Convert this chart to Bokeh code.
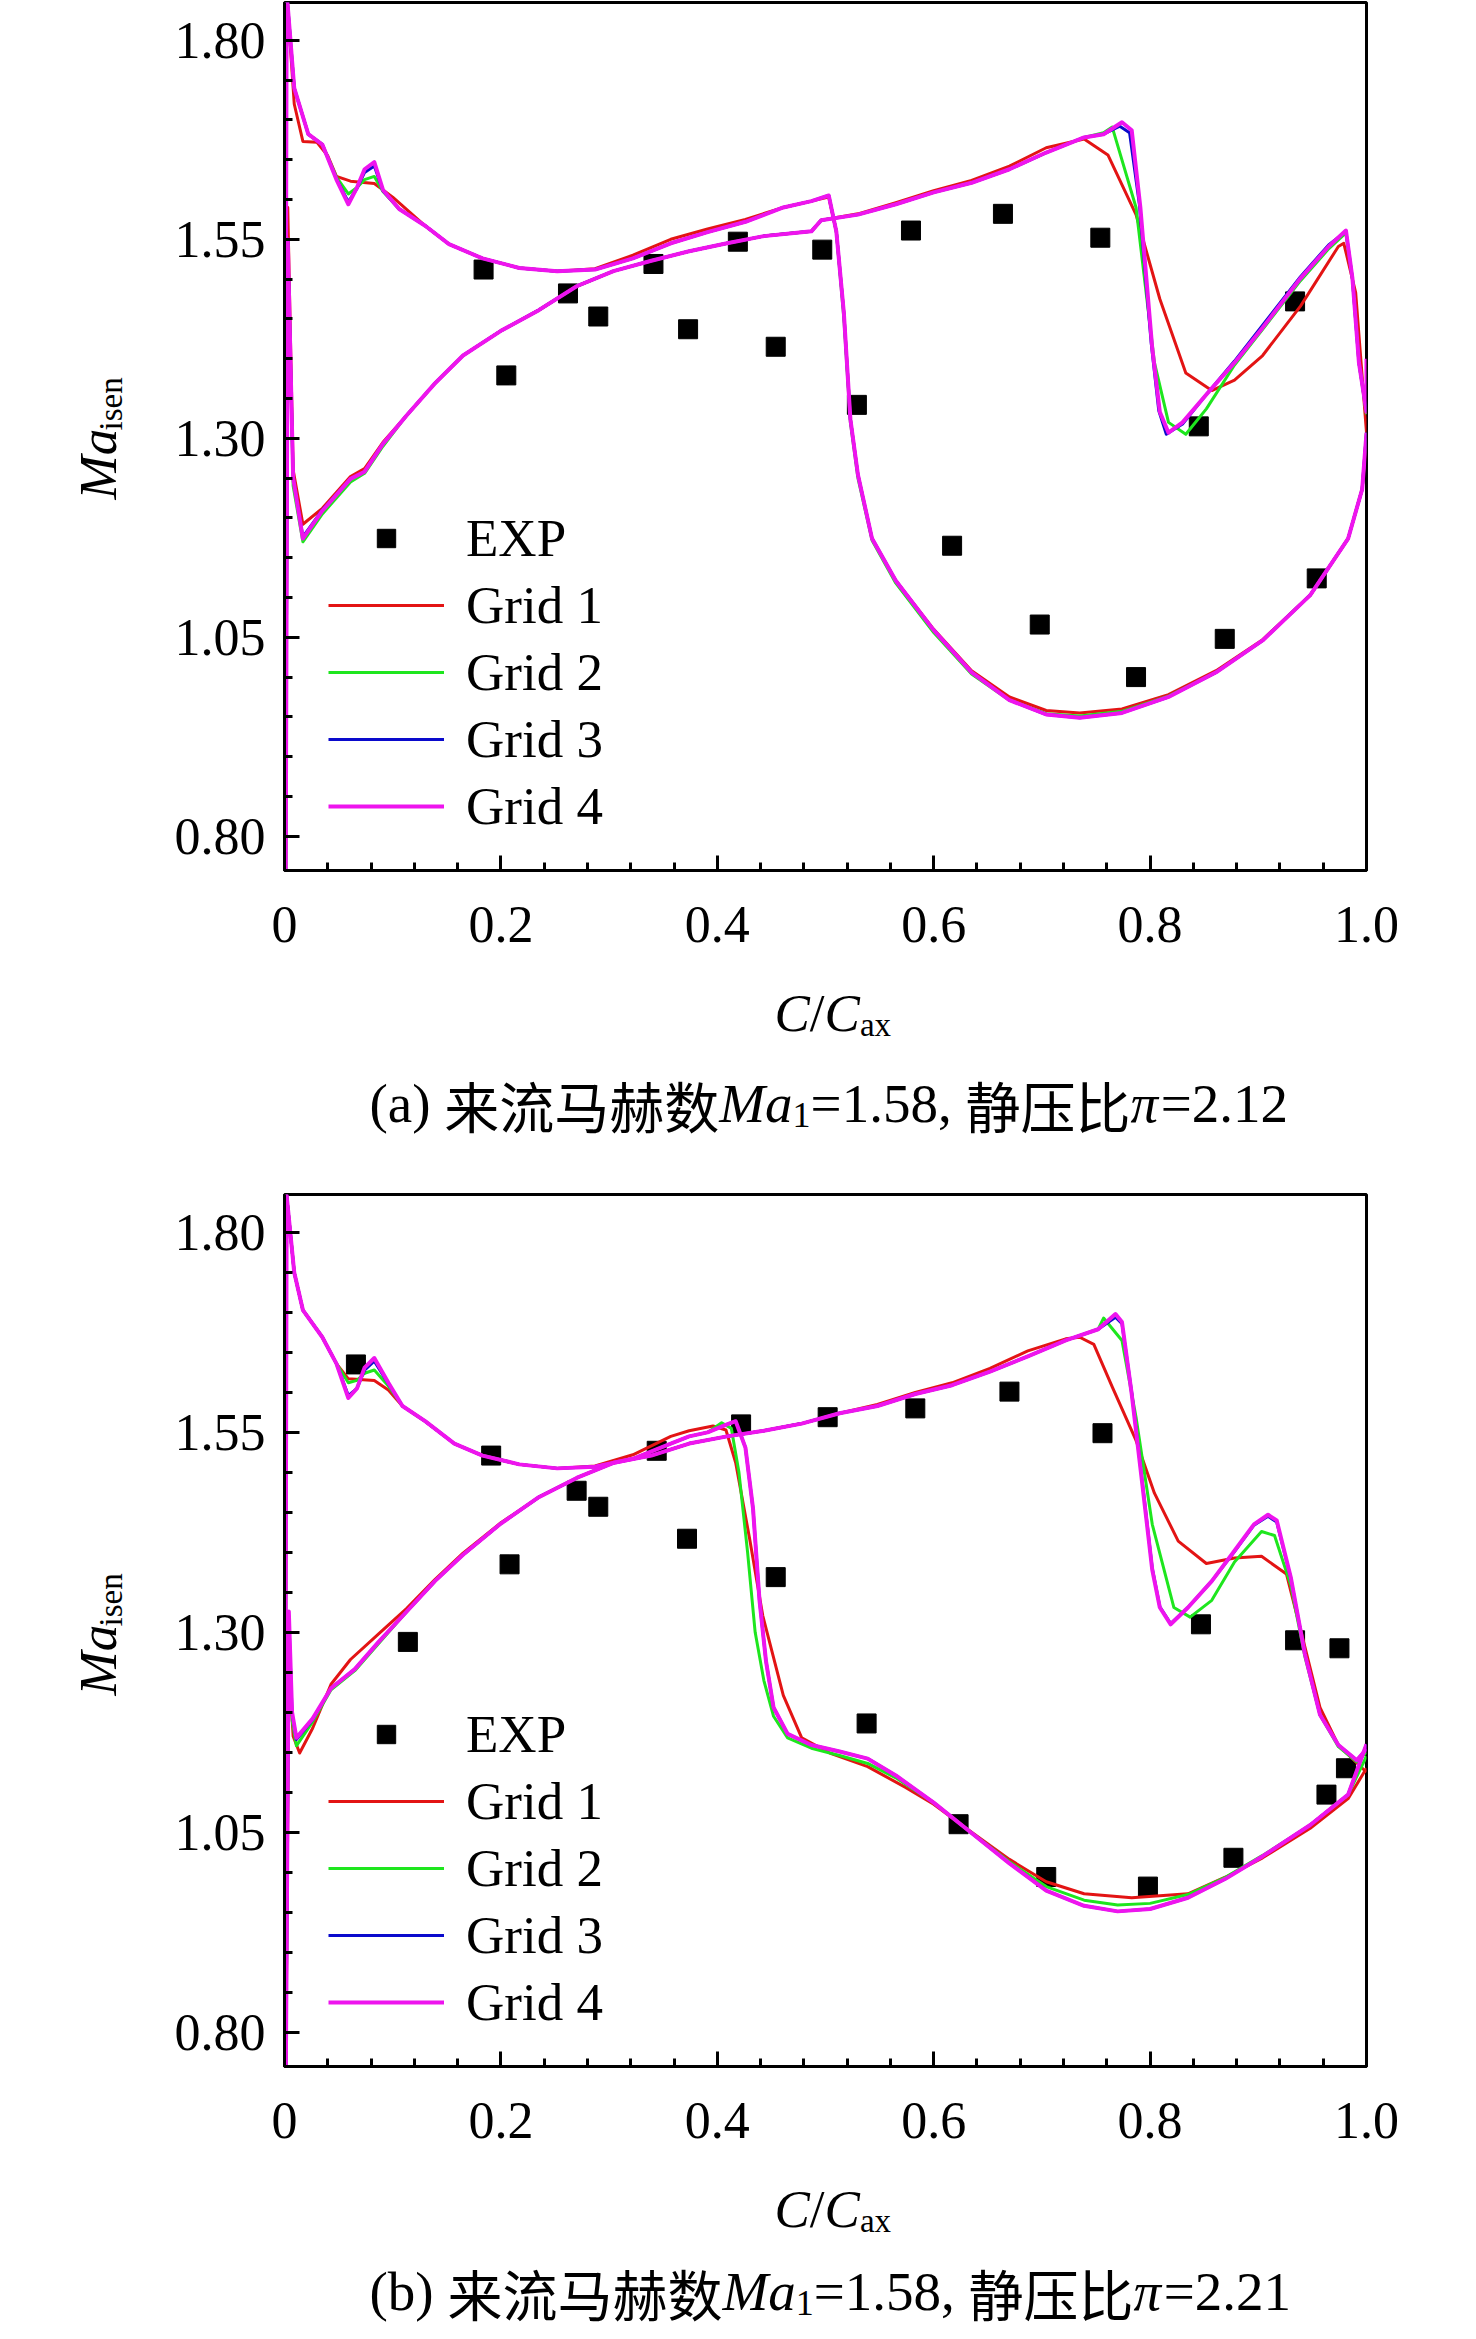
from math import pi

from bokeh.embed import file_html
from bokeh.layouts import column, row
from bokeh.models import (FixedTicker, Label, Legend, LegendItem,
                          NumeralTickFormatter, Range1d)
from bokeh.plotting import figure
from bokeh.resources import INLINE

SERIF = "Liberation Serif"
CJK = "Noto Sans CJK SC"

COLORS = {"Grid 1": "#e31414", "Grid 2": "#1ee61e", "Grid 3": "#0a0acc", "Grid 4": "#ee14ee"}

# ---------------- panel (a): Ma1=1.58, pi=2.12 ----------------
a_exp_x = [0.184, 0.205, 0.262, 0.290, 0.341, 0.373, 0.419, 0.454, 0.497, 0.529,
           0.579, 0.617, 0.664, 0.698, 0.754, 0.787, 0.845, 0.869, 0.934, 0.954]
a_exp_y = [1.512, 1.379, 1.482, 1.453, 1.519, 1.437, 1.547, 1.415, 1.537, 1.342,
           1.561, 1.165, 1.582, 1.066, 1.552, 1.000, 1.315, 1.048, 1.472, 1.124]

# branch starting high at the leading edge
a_up_le_x = [0.000, 0.002, 0.009, 0.022, 0.035, 0.048, 0.059, 0.067, 0.074, 0.083, 0.091, 0.106, 0.130]
a_up_le_g4 = [0.70, 1.86, 1.740, 1.682, 1.669, 1.625, 1.594, 1.615, 1.638, 1.647, 1.612, 1.588, 1.567]
a_up_le_g3 = [0.70, 1.86, 1.740, 1.682, 1.669, 1.626, 1.597, 1.614, 1.634, 1.642, 1.611, 1.588, 1.567]
a_up_le_g2 = [0.70, 1.86, 1.740, 1.682, 1.669, 1.628, 1.607, 1.615, 1.625, 1.629, 1.610, 1.588, 1.567]
a_up_le_g1x = [0.000, 0.002, 0.009, 0.017, 0.030, 0.040, 0.048, 0.061, 0.083, 0.100, 0.130]
a_up_le_g1 = [0.70, 1.86, 1.720, 1.673, 1.672, 1.655, 1.629, 1.623, 1.620, 1.603, 1.567]

a_up_mid_x = [0.152, 0.183, 0.217, 0.252, 0.287, 0.322, 0.357, 0.391, 0.426, 0.461, 0.487, 0.503]
a_up_mid = [1.544, 1.526, 1.514, 1.510, 1.512, 1.526, 1.545, 1.559, 1.572, 1.590, 1.598, 1.605]
a_up_mid_g1 = [1.544, 1.526, 1.514, 1.510, 1.513, 1.530, 1.550, 1.563, 1.575, 1.590, 1.598, 1.603]

a_up_te_x = [0.510, 0.517, 0.523, 0.530, 0.543, 0.565, 0.600, 0.635, 0.670, 0.704,
             0.735, 0.774, 0.817, 0.861, 0.904, 0.948, 0.983, 0.996, 1.000]
a_up_te = [1.560, 1.457, 1.324, 1.254, 1.174, 1.121, 1.059, 1.006, 0.971, 0.953,
           0.949, 0.955, 0.975, 1.006, 1.046, 1.103, 1.174, 1.236, 1.307]
a_up_te_g2 = [1.560, 1.450, 1.320, 1.250, 1.172, 1.118, 1.056, 1.004, 0.971, 0.954,
              0.951, 0.957, 0.976, 1.006, 1.046, 1.103, 1.174, 1.236, 1.307]
a_up_te_g1 = [1.560, 1.457, 1.324, 1.254, 1.174, 1.121, 1.060, 1.008, 0.975, 0.958,
              0.955, 0.960, 0.978, 1.008, 1.047, 1.103, 1.174, 1.236, 1.300]

# branch starting low at the leading edge
a_lo_le_x = [0.001, 0.003, 0.008, 0.017, 0.035, 0.061, 0.074, 0.091, 0.113]
a_lo_le_g4 = [0.70, 1.550, 1.250, 1.174, 1.209, 1.249, 1.258, 1.293, 1.329]
a_lo_le_g3 = [0.70, 1.550, 1.250, 1.176, 1.210, 1.249, 1.258, 1.293, 1.329]
a_lo_le_g2 = [0.70, 1.550, 1.240, 1.170, 1.205, 1.245, 1.256, 1.290, 1.329]
a_lo_le_g1 = [0.70, 1.590, 1.260, 1.192, 1.212, 1.252, 1.262, 1.295, 1.329]

a_lo_mid_x = [0.139, 0.165, 0.200, 0.235, 0.270, 0.304, 0.339, 0.374, 0.409, 0.443,
              0.487, 0.496, 0.530, 0.565, 0.600, 0.635, 0.670, 0.704]
a_lo_mid = [1.369, 1.404, 1.435, 1.461, 1.491, 1.510, 1.523, 1.535, 1.545, 1.554,
            1.560, 1.574, 1.581, 1.594, 1.609, 1.621, 1.638, 1.659]
a_lo_mid_g1 = [1.369, 1.404, 1.435, 1.461, 1.491, 1.510, 1.523, 1.535, 1.545, 1.554,
               1.560, 1.574, 1.582, 1.596, 1.611, 1.624, 1.642, 1.665]

a_lo_te_x_g4 = [0.739, 0.757, 0.774, 0.783, 0.791, 0.802, 0.809, 0.817, 0.830, 0.852,
                0.878, 0.904, 0.939, 0.965, 0.981, 0.987, 0.993, 1.000, 1.000]
a_lo_te_g4 = [1.678, 1.682, 1.697, 1.687, 1.590, 1.413, 1.333, 1.307, 1.320, 1.355,
              1.395, 1.439, 1.501, 1.541, 1.561, 1.501, 1.395, 1.333, 1.400]
a_lo_te_x_g3 = [0.739, 0.757, 0.772, 0.781, 0.790, 0.801, 0.808, 0.815, 0.830, 0.852,
                0.878, 0.904, 0.939, 0.965, 0.981, 0.987, 0.993, 1.000]
a_lo_te_g3 = [1.678, 1.682, 1.692, 1.684, 1.595, 1.420, 1.335, 1.305, 1.318, 1.355,
              1.397, 1.442, 1.503, 1.543, 1.560, 1.501, 1.395, 1.333]
a_lo_te_x_g2 = [0.739, 0.757, 0.765, 0.787, 0.804, 0.817, 0.833, 0.852, 0.878, 0.904,
                0.939, 0.965, 0.981, 0.987, 0.993, 1.000]
a_lo_te_g2 = [1.678, 1.684, 1.691, 1.590, 1.395, 1.320, 1.305, 1.337, 1.392, 1.437,
              1.498, 1.538, 1.558, 1.500, 1.395, 1.330]
a_lo_te_x_g1 = [0.739, 0.761, 0.787, 0.809, 0.833, 0.857, 0.878, 0.904, 0.939, 0.974,
                0.979, 0.990, 1.000]
a_lo_te_g1 = [1.676, 1.656, 1.581, 1.475, 1.382, 1.360, 1.373, 1.404, 1.466, 1.541,
              1.545, 1.483, 1.307]

# ---------------- panel (b): Ma1=1.58, pi=2.21 ----------------
b_exp_x = [0.066, 0.114, 0.191, 0.208, 0.270, 0.290, 0.344, 0.372, 0.422, 0.454, 0.502, 0.538,
           0.583, 0.623, 0.670, 0.704, 0.756, 0.798, 0.847, 0.877, 0.934, 0.963, 0.975, 0.981]
b_exp_y = [1.635, 1.288, 1.521, 1.385, 1.477, 1.457, 1.527, 1.417, 1.560, 1.369, 1.569, 1.186,
           1.580, 1.060, 1.601, 0.994, 1.549, 0.982, 1.310, 1.018, 1.290, 1.097, 1.280, 1.130]

b_up_le_x = [0.000, 0.002, 0.009, 0.017, 0.035, 0.048, 0.059, 0.067, 0.074, 0.083, 0.096, 0.109, 0.130]
b_up_le_g4 = [0.70, 1.846, 1.750, 1.703, 1.669, 1.636, 1.593, 1.605, 1.631, 1.643, 1.612, 1.583, 1.564]
b_up_le_g3 = [0.70, 1.846, 1.750, 1.703, 1.669, 1.636, 1.596, 1.605, 1.628, 1.639, 1.611, 1.583, 1.564]
b_up_le_g2 = [0.70, 1.846, 1.750, 1.703, 1.669, 1.636, 1.612, 1.615, 1.624, 1.628, 1.608, 1.583, 1.564]
b_up_le_g1x = [0.000, 0.002, 0.009, 0.017, 0.035, 0.048, 0.059, 0.083, 0.096, 0.109, 0.130]
b_up_le_g1 = [0.70, 1.846, 1.750, 1.703, 1.669, 1.636, 1.617, 1.615, 1.603, 1.583, 1.564]

b_up_mid_x = [0.157, 0.183, 0.217, 0.252, 0.287, 0.322, 0.357]
b_up_mid = [1.536, 1.521, 1.510, 1.505, 1.507, 1.517, 1.536]
b_up_mid_g1 = [1.536, 1.521, 1.510, 1.505, 1.508, 1.522, 1.545]

b_up_te_x_g4 = [0.374, 0.391, 0.409, 0.417, 0.426, 0.433, 0.439, 0.445, 0.452, 0.465, 0.487, 0.513, 0.539,
                0.565, 0.600, 0.635, 0.670, 0.704, 0.739, 0.770, 0.800, 0.835, 0.870, 0.904, 0.948, 0.983, 1.000]
b_up_te_g4 = [1.545, 1.550, 1.560, 1.564, 1.531, 1.455, 1.340, 1.264, 1.206, 1.173, 1.159, 1.151, 1.142,
              1.121, 1.087, 1.049, 1.011, 0.977, 0.958, 0.951, 0.954, 0.968, 0.992, 1.020, 1.059, 1.097, 1.160]
b_up_te_x_g2 = [0.374, 0.391, 0.404, 0.413, 0.420, 0.428, 0.435, 0.443, 0.452, 0.465, 0.487, 0.513, 0.539,
                0.565, 0.600, 0.635, 0.670, 0.704, 0.739, 0.770, 0.800, 0.835, 0.870, 0.904, 0.948, 0.983, 1.000]
b_up_te_g2 = [1.545, 1.550, 1.562, 1.555, 1.500, 1.400, 1.300, 1.240, 1.195, 1.168, 1.155, 1.146, 1.136,
              1.118, 1.087, 1.049, 1.013, 0.982, 0.965, 0.959, 0.961, 0.972, 0.994, 1.021, 1.059, 1.097, 1.145]
b_up_te_x_g1 = [0.374, 0.396, 0.408, 0.417, 0.430, 0.442, 0.461, 0.478, 0.504, 0.539, 0.574, 0.600,
                0.635, 0.670, 0.704, 0.739, 0.783, 0.835, 0.870, 0.904, 0.948, 0.983, 1.000]
b_up_te_g1 = [1.552, 1.558, 1.553, 1.512, 1.416, 1.321, 1.221, 1.168, 1.149, 1.132, 1.106, 1.085,
              1.050, 1.016, 0.988, 0.973, 0.968, 0.973, 0.994, 1.018, 1.055, 1.092, 1.130]

b_lo_le_x = [0.001, 0.004, 0.007, 0.011, 0.026, 0.043, 0.065, 0.087, 0.113]
b_lo_le_g4 = [0.70, 1.326, 1.200, 1.168, 1.192, 1.230, 1.254, 1.288, 1.326]
b_lo_le_g3 = [0.70, 1.320, 1.198, 1.166, 1.191, 1.230, 1.254, 1.288, 1.326]
b_lo_le_g2 = [0.70, 1.300, 1.190, 1.158, 1.188, 1.228, 1.252, 1.286, 1.326]
b_lo_le_g1x = [0.001, 0.004, 0.008, 0.014, 0.026, 0.043, 0.061, 0.087, 0.113]
b_lo_le_g1 = [0.70, 1.260, 1.170, 1.149, 1.180, 1.235, 1.266, 1.298, 1.330]

b_lo_mid_x = [0.139, 0.165, 0.200, 0.235, 0.270, 0.304, 0.339, 0.374, 0.409, 0.443, 0.478,
              0.513, 0.548, 0.583, 0.617, 0.652, 0.687]
b_lo_mid = [1.364, 1.397, 1.436, 1.469, 1.493, 1.512, 1.521, 1.536, 1.545, 1.552, 1.561,
            1.574, 1.583, 1.598, 1.609, 1.626, 1.645]
b_lo_mid_g1 = [1.366, 1.399, 1.437, 1.469, 1.493, 1.512, 1.521, 1.536, 1.545, 1.552, 1.561,
               1.574, 1.585, 1.600, 1.612, 1.630, 1.652]

b_lo_te_x_g4 = [0.722, 0.752, 0.768, 0.774, 0.783, 0.793, 0.802, 0.809, 0.819, 0.835, 0.857, 0.878,
                0.896, 0.909, 0.917, 0.930, 0.943, 0.957, 0.974, 0.991, 1.000]
b_lo_te_g4 = [1.665, 1.679, 1.698, 1.688, 1.598, 1.483, 1.378, 1.331, 1.310, 1.331, 1.364, 1.402,
              1.435, 1.447, 1.440, 1.369, 1.273, 1.197, 1.159, 1.140, 1.154]
b_lo_te_g3 = [1.665, 1.679, 1.694, 1.686, 1.600, 1.486, 1.380, 1.332, 1.311, 1.331, 1.364, 1.401,
              1.434, 1.445, 1.438, 1.368, 1.273, 1.197, 1.159, 1.140, 1.154]
b_lo_te_x_g2 = [0.722, 0.752, 0.757, 0.774, 0.787, 0.802, 0.822, 0.837, 0.857, 0.878, 0.903, 0.915,
                0.930, 0.943, 0.957, 0.974, 0.991, 1.000]
b_lo_te_g2 = [1.665, 1.679, 1.693, 1.665, 1.569, 1.435, 1.331, 1.319, 1.340, 1.388, 1.426, 1.421,
              1.359, 1.270, 1.197, 1.157, 1.138, 1.150]
b_lo_te_x_g1 = [0.722, 0.735, 0.748, 0.765, 0.787, 0.804, 0.826, 0.852, 0.878, 0.903, 0.926, 0.943,
                0.957, 0.974, 1.000]
b_lo_te_g1 = [1.667, 1.669, 1.660, 1.607, 1.540, 1.474, 1.414, 1.386, 1.393, 1.395, 1.373, 1.282,
              1.206, 1.159, 1.125]


def build_series(up_le_x, up_le, up_mid_x, up_mid, up_te_x, up_te,
                 lo_le_x, lo_le, lo_mid_x, lo_mid, lo_te_x, lo_te):
    # each grid result is two branches, put together from the pieces read above
    return [(up_le_x + up_mid_x + up_te_x, up_le + up_mid + up_te),
            (lo_le_x + lo_mid_x + lo_te_x, lo_le + lo_mid + lo_te)]


panel_a = {
    "exp": (a_exp_x, a_exp_y),
    "Grid 1": build_series(a_up_le_g1x, a_up_le_g1, a_up_mid_x, a_up_mid_g1, a_up_te_x, a_up_te_g1,
                           a_lo_le_x, a_lo_le_g1, a_lo_mid_x, a_lo_mid_g1, a_lo_te_x_g1, a_lo_te_g1),
    "Grid 2": build_series(a_up_le_x, a_up_le_g2, a_up_mid_x, a_up_mid, a_up_te_x, a_up_te_g2,
                           a_lo_le_x, a_lo_le_g2, a_lo_mid_x, a_lo_mid, a_lo_te_x_g2, a_lo_te_g2),
    "Grid 3": build_series(a_up_le_x, a_up_le_g3, a_up_mid_x, a_up_mid, a_up_te_x, a_up_te,
                           a_lo_le_x, a_lo_le_g3, a_lo_mid_x, a_lo_mid, a_lo_te_x_g3, a_lo_te_g3),
    "Grid 4": build_series(a_up_le_x, a_up_le_g4, a_up_mid_x, a_up_mid, a_up_te_x, a_up_te,
                           a_lo_le_x, a_lo_le_g4, a_lo_mid_x, a_lo_mid, a_lo_te_x_g4, a_lo_te_g4),
}

panel_b = {
    "exp": (b_exp_x, b_exp_y),
    "Grid 1": build_series(b_up_le_g1x, b_up_le_g1, b_up_mid_x, b_up_mid_g1, b_up_te_x_g1, b_up_te_g1,
                           b_lo_le_g1x, b_lo_le_g1, b_lo_mid_x, b_lo_mid_g1, b_lo_te_x_g1, b_lo_te_g1),
    "Grid 2": build_series(b_up_le_x, b_up_le_g2, b_up_mid_x, b_up_mid, b_up_te_x_g2, b_up_te_g2,
                           b_lo_le_x, b_lo_le_g2, b_lo_mid_x, b_lo_mid, b_lo_te_x_g2, b_lo_te_g2),
    "Grid 3": build_series(b_up_le_x, b_up_le_g3, b_up_mid_x, b_up_mid, b_up_te_x_g4, b_up_te_g4,
                           b_lo_le_x, b_lo_le_g3, b_lo_mid_x, b_lo_mid, b_lo_te_x_g4, b_lo_te_g3),
    "Grid 4": build_series(b_up_le_x, b_up_le_g4, b_up_mid_x, b_up_mid, b_up_te_x_g4, b_up_te_g4,
                           b_lo_le_x, b_lo_le_g4, b_lo_mid_x, b_lo_mid, b_lo_te_x_g4, b_lo_te_g4),
}

x_ticks = [0.0, 0.2, 0.4, 0.6, 0.8, 1.0]
y_ticks = [0.80, 1.05, 1.30, 1.55, 1.80]

# rough advance widths (em) for Times-like text, used to chain text pieces
W_REG = {"(": 0.333, ")": 0.333, "a": 0.444, "b": 0.5, " ": 0.25, ".": 0.25, ",": 0.25,
         "=": 0.564, "/": 0.278, "x": 0.5}
W_ITA = {"M": 0.833, "a": 0.5, "C": 0.667, "π": 0.55}

MAIN_BOTTOM = 100


def text_width(s, size, kind):
    if kind == "cjk":
        return len(s) * size
    table = W_ITA if kind == "ita" else W_REG
    return sum(table.get(ch, 0.5) for ch in s) * size


def add_run(p, x, y, pieces, angle=0.0):
    # pieces: (text, size, kind, baseline shift)
    for txt, size, kind, dy in pieces:
        font = CJK if kind == "cjk" else SERIF
        lx, ly = (x, y + dy) if angle == 0 else (x - dy, y)
        p.add_layout(Label(x=lx, y=ly, x_units="screen", y_units="screen", text=txt,
                           text_font=font, text_font_size=f"{size}px",
                           text_font_style="italic" if kind == "ita" else "normal",
                           text_color="black", text_align="left", text_baseline="alphabetic",
                           angle=angle))
        if angle == 0:
            x += text_width(txt, size, kind)
        else:
            y += text_width(txt, size, kind)


def blank_fig(width, height):
    f = figure(width=width, height=height, x_range=Range1d(0, 1), y_range=Range1d(0, 1),
               min_border=0, x_axis_location=None, y_axis_location=None,
               output_backend="svg", toolbar_location=None, tools="")
    f.grid.visible = False
    f.outline_line_color = None
    return f


def make_main(data, top_border, frame_h):
    p = figure(frame_width=1082, frame_height=frame_h,
               min_border_left=152, min_border_right=54,
               min_border_top=top_border, min_border_bottom=MAIN_BOTTOM,
               x_range=Range1d(0.0, 1.0), y_range=Range1d(0.757, 1.8475),
               output_backend="svg", toolbar_location=None, tools="")
    p.grid.visible = False
    p.outline_line_color = "black"
    p.outline_line_width = 3

    p.xaxis.ticker = FixedTicker(ticks=x_ticks, minor_ticks=[i * 0.04 for i in range(26)])
    p.yaxis.ticker = FixedTicker(ticks=y_ticks, minor_ticks=[0.75 + i * 0.05 for i in range(23)])
    p.xaxis.formatter = NumeralTickFormatter(format="0.0")
    p.xaxis.major_label_overrides = {0: "0"}
    p.yaxis.formatter = NumeralTickFormatter(format="0.00")
    for ax in (p.xaxis, p.yaxis):
        ax.axis_line_width = 3
        ax.major_tick_line_width = 3
        ax.minor_tick_line_width = 3
        ax.major_tick_in = 15
        ax.major_tick_out = 0
        ax.minor_tick_in = 8
        ax.minor_tick_out = 0
        ax.major_label_text_font = SERIF
        ax.major_label_text_font_size = "52px"
        ax.major_label_text_color = "black"
    p.xaxis.major_label_standoff = 36
    p.yaxis.major_label_standoff = 19

    items = []
    exp_r = p.scatter(*data["exp"], marker="square", size=19, color="black")
    items.append(LegendItem(label="EXP", renderers=[exp_r]))
    for name in ["Grid 1", "Grid 2", "Grid 3", "Grid 4"]:
        rs = []
        for xs, ys in data[name]:
            rs.append(p.line(xs, ys, line_color=COLORS[name],
                             line_width=4 if name == "Grid 4" else 3, line_join="round"))
        items.append(LegendItem(label=name, renderers=[rs[0]]))

    legend = Legend(items=items, location=(44, 31), orientation="vertical",
                    glyph_width=116, glyph_height=46, label_height=67, label_width=10,
                    spacing=0, padding=0, margin=0, label_standoff=22,
                    label_text_font=SERIF, label_text_font_size="53px",
                    label_text_color="black",
                    border_line_alpha=0, background_fill_alpha=0)
    p.add_layout(legend)
    return p


def make_panel(data, tag, ratio, top_border, frame_h, cap_h, xlab_y, cap_y):
    main = make_main(data, top_border, frame_h)
    full_h = top_border + frame_h + MAIN_BOTTOM

    # rotated y title: italic Ma with subscript isen (this frame lines up with the plot frame)
    ylab = blank_fig(132, full_h)
    add_run(ylab, 97, 371, [("Ma", 53, "ita", 0)], angle=pi / 2)
    add_run(ylab, 110, 440, [("isen", 33, "reg", 0)], angle=pi / 2)

    # x title and caption
    cap = blank_fig(1420, cap_h)
    add_run(cap, 774, xlab_y, [("C", 53, "ita", 0), ("/", 53, "reg", 0), ("C", 53, "ita", 0),
                               ("ax", 33, "reg", -12)])
    add_run(cap, 369, cap_y, [(tag + " ", 55, "reg", 0), ("来流马赫数", 55, "cjk", 0),
                              ("Ma", 55, "ita", 0), ("1", 36, "reg", -11), ("=1.58, ", 55, "reg", 0),
                              ("静压比", 55, "cjk", 0), ("π", 55, "ita", 0), ("=" + ratio, 55, "reg", 0)])
    return column(row(ylab, main, spacing=0), cap, spacing=0)


panel_top = make_panel(panel_a, "(a)", "2.12", 2, 868, 214, 172, 81)
panel_bottom = make_panel(panel_b, "(b)", "2.21", 10, 872, 165, 123, 40)
page = column(panel_top, panel_bottom, spacing=0)

open("out.html", "w").write(file_html(page, INLINE))
